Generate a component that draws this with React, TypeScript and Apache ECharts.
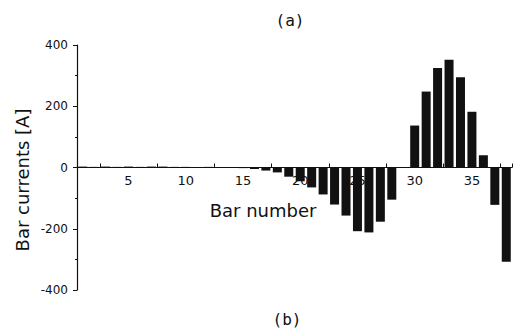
import React, { useEffect, useRef } from "react";
import * as echarts from "echarts";

const barNumbers: string[] = Array.from({ length: 38 }, (_, i) => String(i + 1));
const barCurrents: number[] = [
  3, 2, 3, 2, 3, 2, 3, 3, 2, 2,
  1, 2, 1, 0, -2, -5, -10, -16, -30, -45,
  -65, -88, -121, -157, -208, -212, -177, -105, 0, 137,
  248, 325, 352, 295, 182, 40, -122, -308,
];
const yTicks = { min: -400, max: 400, interval: 200 };
const titleTop = "(a)";
const titleBottom = "(b)";
const xName = "Bar number";
const yName = "Bar currents [A]";

const GRID_TOP = 45;
const GRID_BOTTOM = 39;
const CHART_H = 329;

export default function App() {
  const ref = useRef<HTMLDivElement>(null);
  useEffect(() => {
    if (!ref.current) return;
    document.body.style.margin = "0";
    const chart = echarts.init(ref.current, undefined, { renderer: "svg" });
    const gridH = CHART_H - GRID_TOP - GRID_BOTTOM;
    chart.setOption({
      animation: false,
      backgroundColor: "#ffffff",
      grid: { left: 77, right: 4, top: GRID_TOP, bottom: GRID_BOTTOM, containLabel: false },
      xAxis: {
        type: "category",
        data: barNumbers,
        boundaryGap: true,
        position: "bottom",
        offset: -gridH / 2,
        axisLine: { onZero: false, lineStyle: { color: "#111", width: 1 } },
        axisTick: {
          show: true,
          inside: true,
          length: 4,
          interval: (index: number) => index % 5 === 2,
          lineStyle: { color: "#111" },
        },
        axisLabel: {
          interval: (index: number) => (index + 1) % 5 === 0,
          color: "#111",
          fontFamily: "DejaVu Sans",
          fontSize: 13,
          margin: 6,
        },
        splitLine: { show: false },
      },
      yAxis: {
        type: "value",
        min: yTicks.min,
        max: yTicks.max,
        interval: yTicks.interval,
        axisLine: { show: true, lineStyle: { color: "#111", width: 1.2 } },
        axisTick: { show: true, length: 4, lineStyle: { color: "#111" } },
        minorTick: { show: true, splitNumber: 2, length: 2, lineStyle: { color: "#111" } },
        axisLabel: {
          color: "#111",
          fontFamily: "DejaVu Sans",
          fontSize: 12,
          margin: 9,
        },
        splitLine: { show: false },
      },
      series: [
        {
          type: "bar",
          data: barCurrents,
          barWidth: 9,
          itemStyle: { color: "#111" },
        },
      ],
      graphic: [
        {
          type: "text",
          x: 290,
          y: 20,
          style: {
            text: titleTop,
            align: "center",
            verticalAlign: "middle",
            font: "16px 'DejaVu Sans Mono'",
            fill: "#111",
          },
        },
        {
          type: "text",
          x: 287,
          y: 319,
          style: {
            text: titleBottom,
            align: "center",
            verticalAlign: "middle",
            font: "16px 'DejaVu Sans Mono'",
            fill: "#111",
          },
        },
        {
          type: "text",
          x: 263,
          y: 210,
          style: {
            text: xName,
            align: "center",
            verticalAlign: "middle",
            font: "18px 'DejaVu Sans'",
            fill: "#111",
          },
        },
        {
          type: "text",
          x: 22,
          y: 180,
          rotation: Math.PI / 2,
          style: {
            text: yName,
            align: "center",
            verticalAlign: "middle",
            font: "18px 'DejaVu Sans'",
            fill: "#111",
          },
        },
      ],
    });
    return () => chart.dispose();
  }, []);
  return (
    <div
      ref={ref}
      style={{ position: "absolute", left: 0, top: 0, width: 516, height: 329 }}
    />
  );
}
